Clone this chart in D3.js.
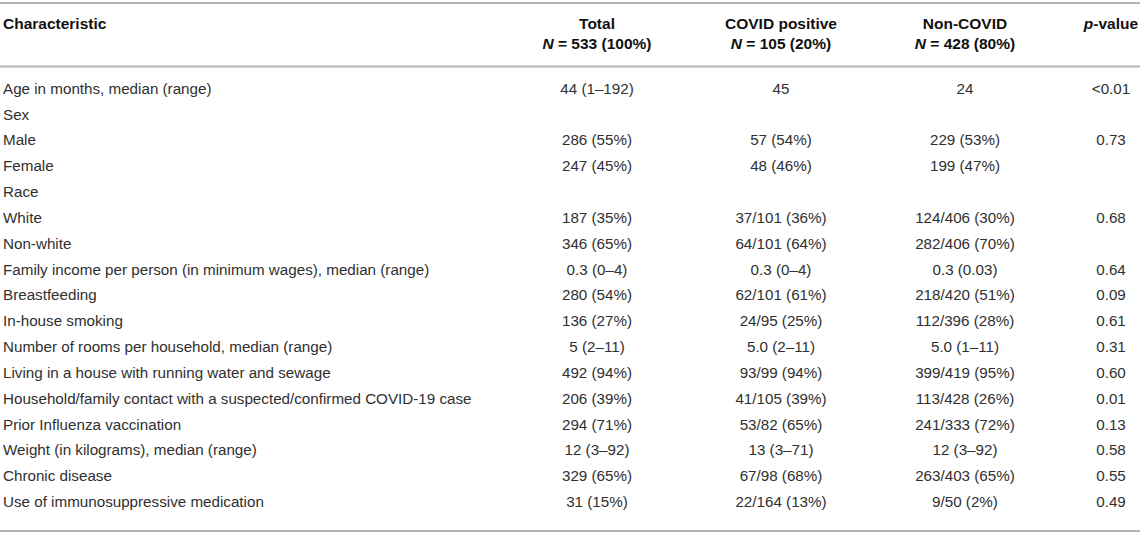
<!DOCTYPE html>
<html>
<head>
<meta charset="utf-8">
<script src="https://cdn.jsdelivr.net/npm/d3@7"></script>
<style>
  html, body { margin: 0; padding: 0; background: #fff; }
  svg { display: block; font-family: "Liberation Sans", Arial, Helvetica, sans-serif; }
</style>
</head>
<body>
<svg id="chart" width="1143" height="535"></svg>
<script>
// ---- Data ----
const characteristics = [
  "Age in months, median (range)",
  "Sex",
  "Male",
  "Female",
  "Race",
  "White",
  "Non-white",
  "Family income per person (in minimum wages), median (range)",
  "Breastfeeding",
  "In-house smoking",
  "Number of rooms per household, median (range)",
  "Living in a house with running water and sewage",
  "Household/family contact with a suspected/confirmed COVID-19 case",
  "Prior Influenza vaccination",
  "Weight (in kilograms), median (range)",
  "Chronic disease",
  "Use of immunosuppressive medication"
];
const totalValues = [
  "44 (1–192)", "", "286 (55%)", "247 (45%)", "", "187 (35%)", "346 (65%)",
  "0.3 (0–4)", "280 (54%)", "136 (27%)", "5 (2–11)", "492 (94%)", "206 (39%)",
  "294 (71%)", "12 (3–92)", "329 (65%)", "31 (15%)"
];
const covidValues = [
  "45", "", "57 (54%)", "48 (46%)", "", "37/101 (36%)", "64/101 (64%)",
  "0.3 (0–4)", "62/101 (61%)", "24/95 (25%)", "5.0 (2–11)", "93/99 (94%)", "41/105 (39%)",
  "53/82 (65%)", "13 (3–71)", "67/98 (68%)", "22/164 (13%)"
];
const nonCovidValues = [
  "24", "", "229 (53%)", "199 (47%)", "", "124/406 (30%)", "282/406 (70%)",
  "0.3 (0.03)", "218/420 (51%)", "112/396 (28%)", "5.0 (1–11)", "399/419 (95%)", "113/428 (26%)",
  "241/333 (72%)", "12 (3–92)", "263/403 (65%)", "9/50 (2%)"
];
const pValues = [
  "<0.01", "", "0.73", "", "", "0.68", "", "0.64", "0.09", "0.61", "0.31",
  "0.60", "0.01", "0.13", "0.58", "0.55", "0.49"
];
const columnKeys = ["total", "covid", "noncovid", "p"];
const headerLine1 = ["Total", "COVID positive", "Non-COVID", null];
const headerNs = ["533 (100%)", "105 (20%)", "428 (80%)", null];

// ---- Layout ----
const svg = d3.select("#chart");

const xCol = d3.scaleOrdinal().domain(columnKeys).range([597, 781, 965, 1111]);
const xLeft = 3;
const yRow = d3.scalePoint().domain(d3.range(characteristics.length)).range([93.8, 507]);

const ruleColor = "#b5b5b5";
const rules = [3, 66.5, 531];
svg.selectAll("line.rule").data(rules).join("line")
  .attr("class", "rule")
  .attr("x1", 0).attr("x2", 1140)
  .attr("y1", d => d).attr("y2", d => d)
  .attr("stroke", ruleColor).attr("stroke-width", 2);

// Header
const hdr = svg.append("g").attr("font-weight", "bold").attr("font-size", 15.5).attr("fill", "#111");
hdr.append("text").attr("x", xLeft).attr("y", 28.5).text("Characteristic");

columnKeys.forEach((k, i) => {
  if (headerLine1[i]) {
    hdr.append("text").attr("x", xCol(k)).attr("y", 28.5).attr("text-anchor", "middle").text(headerLine1[i]);
  }
  if (headerNs[i]) {
    const t = hdr.append("text").attr("x", xCol(k)).attr("y", 48.5).attr("text-anchor", "middle");
    t.append("tspan").attr("font-style", "italic").text("N");
    t.append("tspan").text(" = " + headerNs[i]);
  }
});
{
  const t = hdr.append("text").attr("x", xCol("p")).attr("y", 28.5).attr("text-anchor", "middle");
  t.append("tspan").attr("font-style", "italic").text("p");
  t.append("tspan").text("-value");
}

// Body
const body = svg.append("g").attr("font-size", 15.2).attr("fill", "#303030");
body.selectAll("text.char").data(characteristics).join("text")
  .attr("class", "char")
  .attr("x", xLeft)
  .attr("y", (d, i) => yRow(i))
  .text(d => d);

const cols = [
  ["total", totalValues],
  ["covid", covidValues],
  ["noncovid", nonCovidValues],
  ["p", pValues]
];
cols.forEach(([key, vals]) => {
  body.selectAll("text.c-" + key).data(vals).join("text")
    .attr("class", "c-" + key)
    .attr("x", xCol(key))
    .attr("y", (d, i) => yRow(i))
    .attr("text-anchor", "middle")
    .text(d => d);
});
</script>
</body>
</html>
